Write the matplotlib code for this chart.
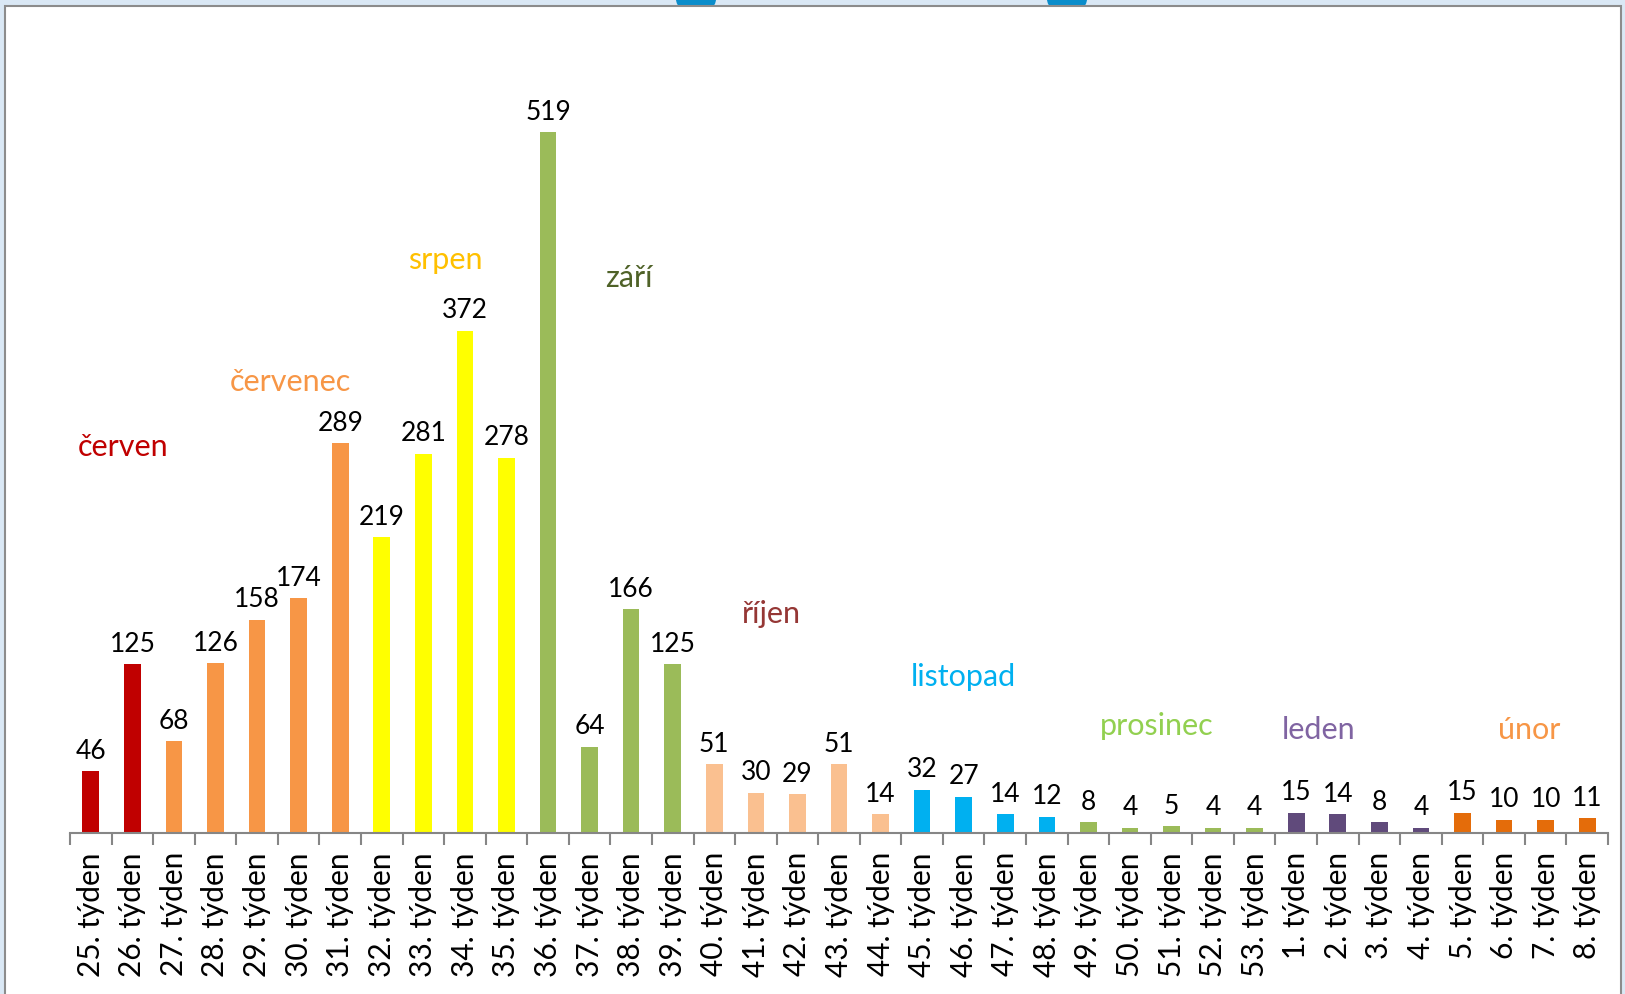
import matplotlib.pyplot as plt
from matplotlib.patches import Rectangle, Ellipse

# data
weeks = list(range(25, 54)) + list(range(1, 9))
week_labels = [f"{w}. týden" for w in weeks]
values = [46, 125, 68, 126, 158, 174, 289, 219, 281, 372, 278,
          519, 64, 166, 125, 51, 30, 29, 51, 14, 32, 27, 14, 12,
          8, 4, 5, 4, 4, 15, 14, 8, 4, 15, 10, 10, 11]
months = (["červen"] * 2 + ["červenec"] * 5 + ["srpen"] * 4 + ["září"] * 4
          + ["říjen"] * 5 + ["listopad"] * 4 + ["prosinec"] * 5
          + ["leden"] * 4 + ["únor"] * 4)
month_names = ["červen", "červenec", "srpen", "září", "říjen",
               "listopad", "prosinec", "leden", "únor"]

# styles
bar_colors = {"červen": "#C00000", "červenec": "#F79646", "srpen": "#FFFF00",
              "září": "#9BBB59", "říjen": "#FAC090", "listopad": "#00B0F0",
              "prosinec": "#9BBB59", "leden": "#604A7B", "únor": "#E46C0A"}
text_colors = {"červen": "#C00000", "červenec": "#F79646", "srpen": "#FFC000",
               "září": "#4F6228", "říjen": "#953735", "listopad": "#00B0F0",
               "prosinec": "#92D050", "leden": "#8064A2", "únor": "#F79646"}
# where the month names sit (category index, value level)
month_spots = {"červen": (0.77, 287), "červenec": (4.79, 335), "srpen": (8.53, 425),
               "září": (12.94, 412), "říjen": (16.36, 163), "listopad": (21.0, 116),
               "prosinec": (25.64, 80), "leden": (29.53, 77), "únor": (34.61, 77)}

plt.rcParams['font.family'] = ['Lato', 'DejaVu Sans']

fig = plt.figure(figsize=(16.25, 9.95), dpi=100, facecolor='#DAE8F5')

# bottoms of the cut-off title letters above the panel
for gx in [696, 1067]:
    fig.patches.append(Ellipse((gx / 1625, 1.0), 40 / 1625, 30 / 995,
                               transform=fig.transFigure, facecolor='#0A8DCB',
                               edgecolor='none', zorder=-2))

fig.patches.append(Rectangle((5 / 1625, -0.01), 1616 / 1625, 1.01 - 7 / 995,
                             transform=fig.transFigure, facecolor='white',
                             edgecolor='#8C8C8C', linewidth=1.5, zorder=-1))

ax = fig.add_axes([70 / 1625, 161 / 995, 1538 / 1625, 810 / 995])
ax.set_facecolor('none')

x = list(range(len(values)))
ax.bar(x, values, width=0.4, color=[bar_colors[m] for m in months])

for xi, v in zip(x, values):
    ax.annotate(str(v), (xi, v), xytext=(0, 6), textcoords='offset points',
                ha='center', va='bottom', fontsize=19, color='black')

for m in month_names:
    mx, my = month_spots[m]
    ax.text(mx, my, m, ha='center', va='center', fontsize=22, color=text_colors[m])

ax.set_xlim(-0.5, len(values) - 0.5)
ax.set_ylim(0, 600)

ax.set_xticks(x)
ax.set_xticklabels(week_labels, rotation=90, va='top', ha='center', fontsize=21.5)
ax.set_xticks([i - 0.5 for i in range(len(values) + 1)], minor=True)
ax.tick_params(axis='x', which='major', length=0, pad=13)
ax.tick_params(axis='x', which='minor', length=8.5, width=1.5, color='#868686', direction='out')

ax.set_yticks([])
for s in ['left', 'right', 'top']:
    ax.spines[s].set_visible(False)
ax.spines['bottom'].set_color('#868686')
ax.spines['bottom'].set_linewidth(1.5)

plt.savefig('out.png', dpi=100, facecolor=fig.get_facecolor())
